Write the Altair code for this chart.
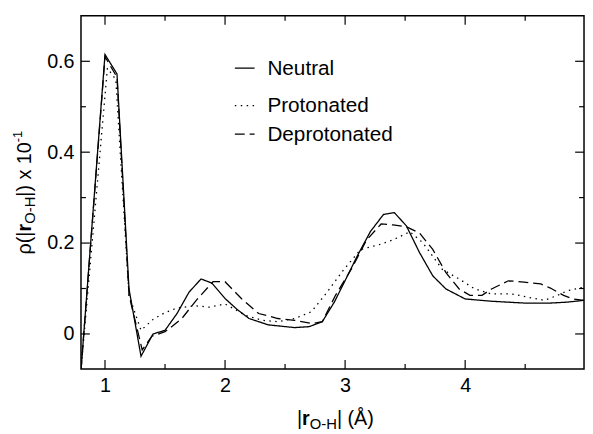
import altair as alt
import pandas as pd

FONT = "Liberation Sans"

series_names = ["Neutral", "Protonated", "Deprotonated"]
series_dash = [[1, 0], [1.5, 4.5], [10, 5]]

neutral_x = [0.8, 1.0, 1.1, 1.2, 1.3, 1.4, 1.5, 1.6, 1.7, 1.8, 1.89, 2.0, 2.1, 2.2, 2.36,
             2.58, 2.7, 2.81, 2.91, 3.02, 3.1, 3.21, 3.32, 3.41, 3.51, 3.62, 3.73, 3.84,
             4.0, 4.22, 4.49, 4.71, 4.85, 4.99]
neutral_y = [-0.08, 0.615, 0.572, 0.099, -0.049, 0.0, 0.008, 0.045, 0.092, 0.121, 0.112,
             0.078, 0.054, 0.034, 0.020, 0.014, 0.016, 0.027, 0.070, 0.128, 0.171, 0.225,
             0.263, 0.267, 0.238, 0.179, 0.128, 0.099, 0.077, 0.072, 0.068, 0.068, 0.070, 0.074]

proton_x = [0.8, 1.02, 1.09, 1.2, 1.3, 1.4, 1.5, 1.6, 1.75, 1.87, 2.0, 2.17, 2.31, 2.44,
            2.58, 2.72, 2.85, 2.99, 3.13, 3.29, 3.40, 3.54, 3.65, 3.81, 3.95, 4.08, 4.22,
            4.39, 4.52, 4.66, 4.77, 4.85, 4.99]
proton_y = [-0.08, 0.585, 0.56, 0.085, 0.008, 0.032, 0.047, 0.057, 0.062, 0.059, 0.066,
            0.041, 0.030, 0.027, 0.034, 0.049, 0.092, 0.142, 0.186, 0.197, 0.207, 0.225,
            0.200, 0.142, 0.121, 0.099, 0.088, 0.088, 0.081, 0.074, 0.085, 0.095, 0.103]

deproton_x = [0.8, 1.0, 1.1, 1.2, 1.31, 1.39, 1.5, 1.56, 1.64, 1.77, 1.9, 2.0, 2.14, 2.28,
              2.44, 2.58, 2.73, 2.81, 2.92, 3.05, 3.18, 3.30, 3.40, 3.51, 3.62, 3.73, 3.84,
              3.95, 4.04, 4.14, 4.22, 4.36, 4.49, 4.63, 4.71, 4.82, 4.90, 4.99]
deproton_y = [-0.08, 0.61, 0.565, 0.085, -0.035, -0.005, 0.005, 0.017, 0.034, 0.077, 0.115,
              0.115, 0.077, 0.045, 0.034, 0.030, 0.023, 0.027, 0.085, 0.142, 0.207, 0.242,
              0.240, 0.236, 0.222, 0.186, 0.135, 0.099, 0.085, 0.085, 0.099, 0.117, 0.114,
              0.110, 0.101, 0.085, 0.077, 0.074]

x_major = [1, 2, 3, 4]
x_minor = [1.5, 2.5, 3.5, 4.5]
y_major = [0, 0.2, 0.4, 0.6]
y_minor = [0.1, 0.3, 0.5]

rows = []
for name, xs_, ys_ in [("Neutral", neutral_x, neutral_y),
                       ("Protonated", proton_x, proton_y),
                       ("Deprotonated", deproton_x, deproton_y)]:
    for a, b in zip(xs_, ys_):
        rows.append({"r": a, "rho": b, "series": name})
df = pd.DataFrame(rows)

W, H = 510, 358
XS = alt.Scale(domain=[0.8, 4.99], nice=False, zero=False)
YS = alt.Scale(domain=[-0.077, 0.7], nice=False, zero=False)

AX = alt.Axis(values=x_major, format="d", title=None, ticks=False, tickSize=0,
              domain=False, grid=False, labelFontSize=20, labelFont=FONT,
              labelColor="black", labelPadding=7)
AY = alt.Axis(values=y_major, format="~g", title=None, ticks=False, tickSize=0,
              domain=False, grid=False, labelFontSize=20, labelFont=FONT,
              labelColor="black", labelPadding=7)

lines = alt.Chart(df).mark_line(clip=True, color="black", strokeWidth=1.3).encode(
    x=alt.X("r:Q", scale=XS, axis=AX),
    y=alt.Y("rho:Q", scale=YS, axis=AY),
    strokeDash=alt.StrokeDash(
        "series:N",
        scale=alt.Scale(domain=series_names, range=series_dash),
        legend=None),
)


def xticks(vals, length):
    d = pd.DataFrame({"r": vals})
    bottom = alt.Chart(d).mark_rule(color="black", strokeWidth=1.2).encode(
        x=alt.X("r:Q", scale=XS, axis=AX), y=alt.value(H), y2=alt.value(H - length))
    top = alt.Chart(d).mark_rule(color="black", strokeWidth=1.2).encode(
        x=alt.X("r:Q", scale=XS, axis=AX), y=alt.value(0), y2=alt.value(length))
    return [bottom, top]


def yticks(vals, length):
    d = pd.DataFrame({"rho": vals})
    left = alt.Chart(d).mark_rule(color="black", strokeWidth=1.2).encode(
        y=alt.Y("rho:Q", scale=YS, axis=AY), x=alt.value(0), x2=alt.value(length))
    right = alt.Chart(d).mark_rule(color="black", strokeWidth=1.2).encode(
        y=alt.Y("rho:Q", scale=YS, axis=AY), x=alt.value(W), x2=alt.value(W - length))
    return [left, right]


def txt(s, x, y, size, bold=False, angle=0):
    kw = dict(font=FONT, fontSize=size, color="black", align="left",
              baseline="alphabetic", fontWeight="bold" if bold else "normal")
    if angle:
        kw["angle"] = angle
    return alt.Chart(pd.DataFrame({"t": [s]})).mark_text(**kw).encode(
        x=alt.value(x), y=alt.value(y), text="t:N")


# manual legend (sample line + label for each series)
legend_line_y = [53, 91, 120]
legend = []
for name, dash, ly in zip(series_names, series_dash, legend_line_y):
    legend.append(
        alt.Chart(pd.DataFrame({"s": [name]})).mark_rule(
            color="black", strokeWidth=1.3, strokeDash=dash).encode(
            x=alt.value(156), x2=alt.value(176), y=alt.value(ly)))
    legend.append(txt(name, 189, ly + 6.5, 21))

# y-axis title: rho(|r_O-H|) x 10^-1  (rotated, reading upward)
ytitle = [
    txt("ρ(|", -51, 242, 20, angle=270),
    txt("r", -51, 218.6, 20, bold=True, angle=270),
    txt("O-H", -47, 210.8, 15, angle=270),
    txt("|) x 10", -51, 183.3, 20, angle=270),
    txt("-1", -60, 128.1, 13, angle=270),
]

# x-axis title: |r_O-H| (Å)
xtitle = [
    txt("|", 219, 415, 20),
    txt("r", 224.2, 415, 20, bold=True),
    txt("O-H", 232, 419, 15),
    txt("| (Å)", 259.5, 415, 20),
]

layers = [lines] + xticks(x_major, 9) + xticks(x_minor, 5) + yticks(y_major, 9) + \
    yticks(y_minor, 5) + legend + ytitle + xtitle

chart = alt.layer(*layers).properties(
    width=W, height=H,
    autosize=alt.AutoSizeParams(type="none"),
    padding={"left": 74, "top": 5, "right": 1, "bottom": 63},
    background="white",
).configure_view(stroke="black", strokeWidth=1.5)

chart.save("out.html", embed_options={"renderer": "svg", "actions": False})
